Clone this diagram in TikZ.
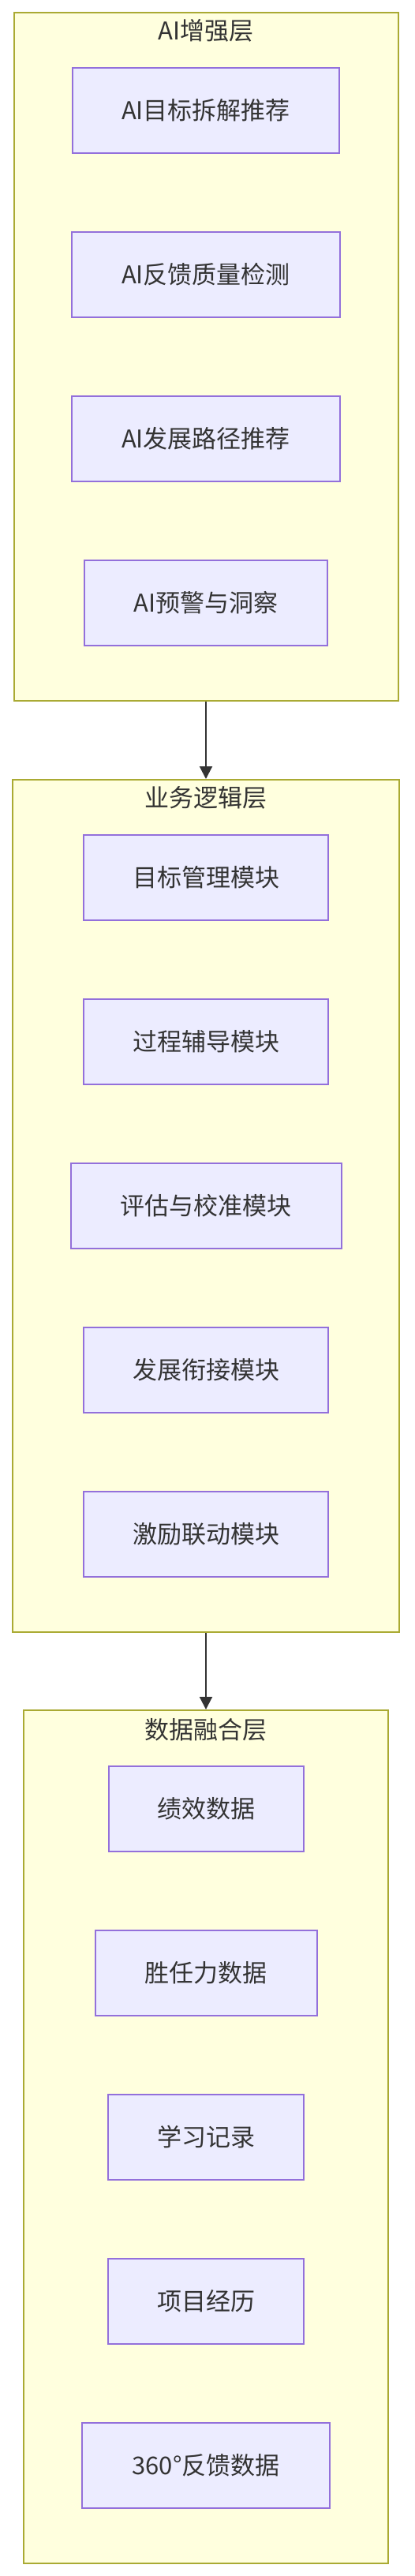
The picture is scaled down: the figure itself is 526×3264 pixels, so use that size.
\documentclass[tikz,border=0pt]{standalone}
\usepackage{fontspec}
\setmainfont{Noto Sans CJK SC}
\usetikzlibrary{arrows.meta}

\definecolor{layerfill}{HTML}{FFFFDE}
\definecolor{layerline}{HTML}{AAAA33}
\definecolor{modfill}{HTML}{ECECFF}
\definecolor{modline}{HTML}{9370DB}
\definecolor{textgray}{HTML}{333333}

\begin{document}
\begin{tikzpicture}[x = 1pt, y = -1pt,
        layer/.style = {draw = layerline, fill = layerfill, line width = 2pt, inner sep = 0pt},
        module/.style = {draw = modline, fill = modfill, line width = 2pt, inner sep = 0pt,
                         minimum height = 108pt, text = textgray, font = \fontsize{31}{37}\selectfont},
        layertitle/.style = {text = textgray, inner sep = 0pt, font = \fontsize{31}{37}\selectfont},
        flow/.style = {draw = textgray, line width = 2pt, -{Triangle[length = 16pt, width = 16pt]}}]

                \useasboundingbox (0, 0) rectangle (526, 3264);

                % three layers
                \node[layer, minimum width = 487pt, minimum height = 872pt] (ai) at (261, 452) {};
                \node[layer, minimum width = 490pt, minimum height = 1080pt] (biz) at (261, 1528) {};
                \node[layer, minimum width = 462pt, minimum height = 1081pt] (data) at (261, 2707.5) {};

                \node[layertitle] (aiTitle) at (261, 39) {AI增强层};
                \node[layertitle] (bizTitle) at (261, 1011) {业务逻辑层};
                \node[layertitle] (dataTitle) at (261, 2192) {数据融合层};

                % modules
                \foreach \txt/\w/\y [count = \i] in {AI目标拆解推荐/338/140, AI反馈质量检测/340/348,
                                                     AI发展路径推荐/340/556, AI预警与洞察/308/764} {
                    \node[module, minimum width = \w pt] (ai\i) at (261, \y) {\txt};
                }

                \foreach \txt/\w/\y [count = \i] in {目标管理模块/310/1112, 过程辅导模块/310/1320,
                                                     评估与校准模块/343/1528, 发展衔接模块/310/1736,
                                                     激励联动模块/310/1944} {
                    \node[module, minimum width = \w pt] (biz\i) at (261, \y) {\txt};
                }

                \foreach \txt/\w/\y [count = \i] in {绩效数据/247/2292, 胜任力数据/281/2500,
                                                     学习记录/248/2708, 项目经历/248/2916,
                                                     360°反馈数据/314/3124} {
                    \node[module, minimum width = \w pt] (data\i) at (261, \y) {\txt};
                }

                \draw[flow] (ai.south) -- (biz.north);
                \draw[flow] (biz.south) -- (data.north);
            \end{tikzpicture}
\end{document}
